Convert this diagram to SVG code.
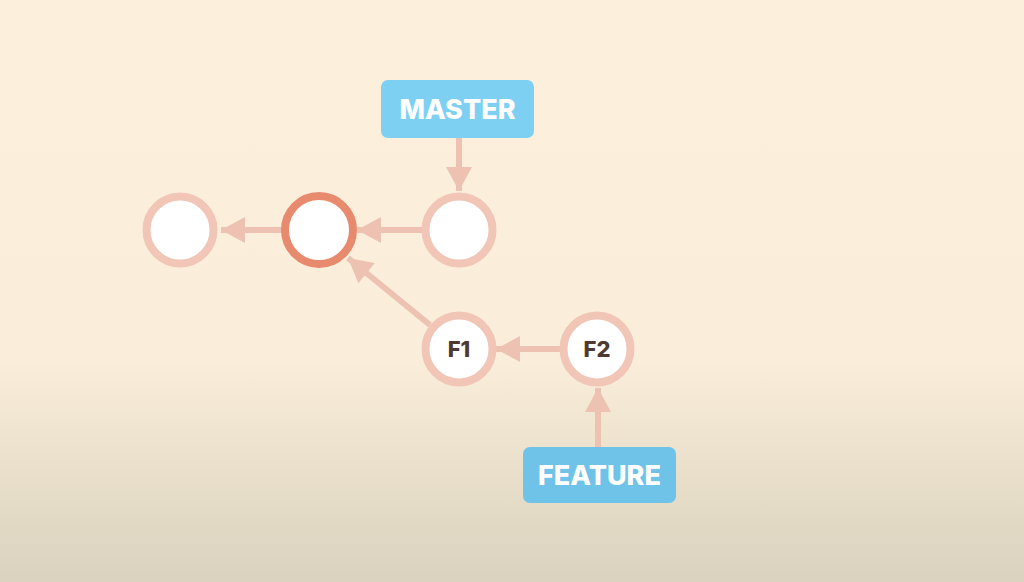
<svg xmlns="http://www.w3.org/2000/svg" width="1024" height="582" viewBox="0 0 1024 582">
  <defs>
    <linearGradient id="bg" x1="0" y1="0" x2="0" y2="1">
      <stop offset="0" stop-color="#FCEFDC"/>
      <stop offset="0.62" stop-color="#FAEEDA"/>
      <stop offset="0.8" stop-color="#EAE0CB"/>
      <stop offset="1" stop-color="#DAD2BF"/>
    </linearGradient>
    <marker id="arrow" markerUnits="userSpaceOnUse" markerWidth="26" markerHeight="26" viewBox="0 0 24 26" refX="24" refY="13" orient="auto">
      <path d="M0,0 L24,13 L0,26 Z" fill="#EDC2B2"/>
    </marker>
  </defs>
  <style>
    .commit { fill: #FFFFFF; stroke: #F1C6B7; stroke-width: 8; }
    .current { fill: #FFFFFF; stroke: #E88A6D; stroke-width: 8; }
    .edge { stroke: #EDC2B2; stroke-width: 6; fill: none; marker-end: url(#arrow); }
    .branch { fill: #7ED0F2; }
    .branch2 { fill: #6FC3E8; }
    .blabel { font-family: "Inter", "Open Sans", sans-serif; font-weight: 800; font-size: 27px; fill: #FFFFFF; text-anchor: middle; }
    .clabel { font-family: "Inter", "Open Sans", sans-serif; font-weight: 800; font-size: 22px; fill: #4E3A33; text-anchor: middle; }
  </style>
  <rect x="0" y="0" width="1024" height="582" fill="url(#bg)"/>

  <g id="connectors">
    <line class="edge" x1="459" y1="138" x2="459" y2="191"/>
    <line class="edge" x1="422" y1="230" x2="357" y2="230"/>
    <line class="edge" x1="282" y1="230" x2="221" y2="230"/>
    <line class="edge" x1="430" y1="325" x2="348" y2="258"/>
    <line class="edge" x1="560" y1="349" x2="496" y2="349"/>
    <line class="edge" x1="598" y1="447" x2="598" y2="388"/>
  </g>

  <g id="c1">
    <circle class="commit" cx="180" cy="230" r="33.5"/>
  </g>
  <g id="c2">
    <circle class="current" cx="319" cy="230" r="34"/>
  </g>
  <g id="c3">
    <circle class="commit" cx="459" cy="230" r="33.5"/>
  </g>
  <g id="f1">
    <circle class="commit" cx="459" cy="349" r="33.5"/>
    <text class="clabel" x="459" y="357">F1</text>
  </g>
  <g id="f2">
    <circle class="commit" cx="597" cy="349" r="33.5"/>
    <text class="clabel" x="597" y="357">F2</text>
  </g>
  <g id="master">
    <rect class="branch" x="381" y="80" width="153" height="58" rx="7"/>
    <text class="blabel" x="457.5" y="119">MASTER</text>
  </g>
  <g id="feature">
    <rect class="branch2" x="523" y="447" width="153" height="56" rx="7"/>
    <text class="blabel" x="599.5" y="485">FEATURE</text>
  </g>
</svg>
